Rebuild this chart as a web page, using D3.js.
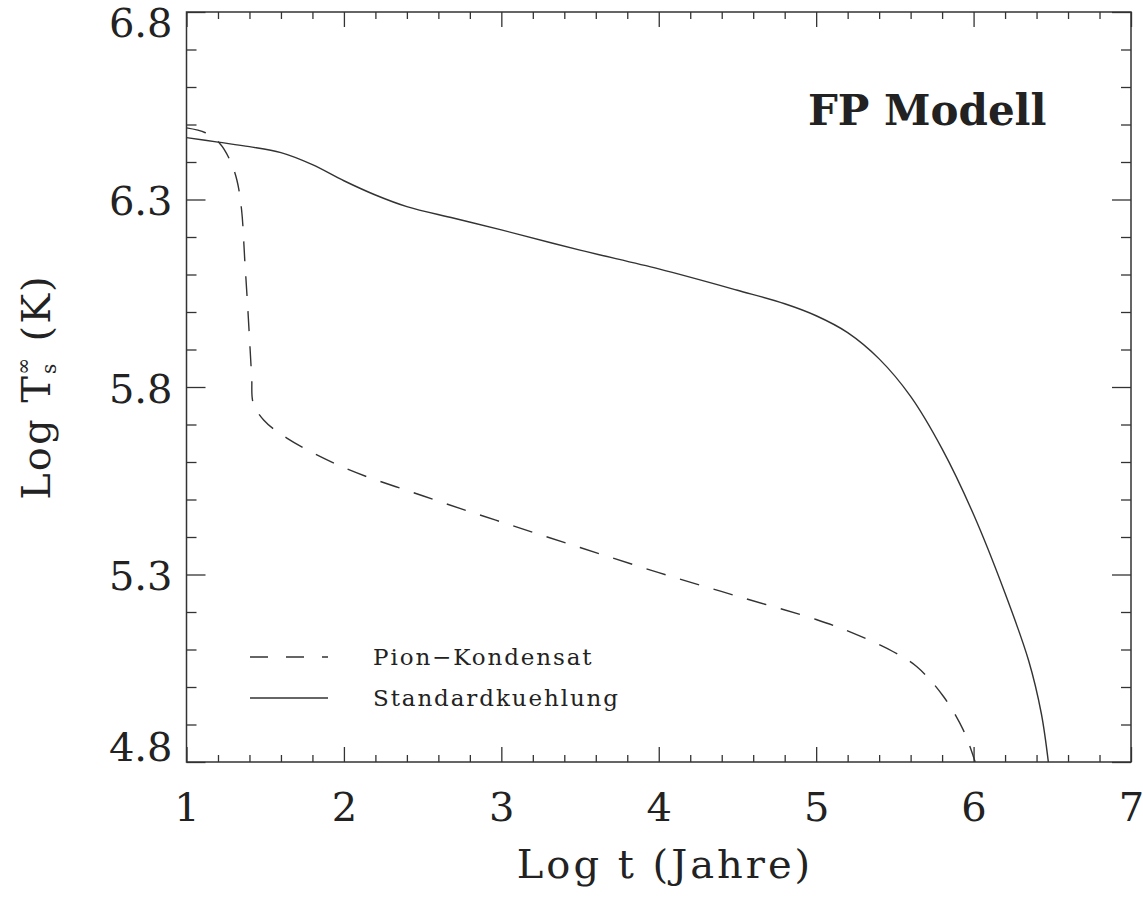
<!DOCTYPE html>
<html>
<head>
<meta charset="utf-8">
<script src="https://cdn.jsdelivr.net/npm/d3@7"></script>
<style>
  html, body { margin: 0; padding: 0; background: #fff; }
  svg { display: block; }
  text { font-family: "DejaVu Serif", "Liberation Serif", serif; fill: #222; }
</style>
</head>
<body>
<svg id="chart" width="1143" height="904"></svg>
<script>
// ---- data ----
const xTickLabels = [1, 2, 3, 4, 5, 6, 7];
const yTickLabels = [4.8, 5.3, 5.8, 6.3, 6.8];

// Standardkuehlung (solid)
const standardX = [1.00, 1.20, 1.40, 1.60, 1.80, 2.00, 2.20, 2.40, 2.70, 3.00, 3.50, 4.00, 4.50, 4.80, 5.00, 5.20, 5.40, 5.60, 5.80, 6.00, 6.20, 6.35, 6.43, 6.475];
const standardY = [6.465, 6.453, 6.441, 6.425, 6.393, 6.350, 6.312, 6.281, 6.250, 6.219, 6.165, 6.115, 6.058, 6.022, 5.990, 5.945, 5.875, 5.775, 5.635, 5.460, 5.250, 5.070, 4.930, 4.800];

// Pion-Kondensat (dashed)
const pionX = [1.00, 1.12, 1.21, 1.276, 1.32, 1.35, 1.37, 1.39, 1.414, 1.424, 1.49, 1.64, 2.00, 2.50, 3.00, 3.50, 4.00, 4.50, 5.00, 5.215, 5.49, 5.64, 5.81, 5.935, 6.01];
const pionY = [6.491, 6.478, 6.450, 6.405, 6.352, 6.272, 6.139, 6.005, 5.827, 5.757, 5.712, 5.663, 5.585, 5.510, 5.440, 5.372, 5.305, 5.242, 5.180, 5.147, 5.094, 5.054, 4.974, 4.885, 4.80];

const legendLabels = ["Pion\u2212Kondensat", "Standardkuehlung"];
const titleText = "FP Modell";
const xTitle = "Log t (Jahre)";

// ---- layout ----
const svg = d3.select("#chart");
const L = 186.5, R = 1131, T = 12, B = 762;
const x = d3.scaleLinear().domain([1, 7]).range([L, R]);
const y = d3.scaleLinear().domain([4.8, 6.8]).range([B, T]);
const ink = "#333";

const xMinor = d3.range(1, 7.001, 0.2).filter(v => Math.abs(v - Math.round(v)) > 1e-6);
const yMinor = d3.range(4.8, 6.801, 0.1).filter(v => !yTickLabels.some(t => Math.abs(t - v) < 1e-6));

function styleAxis(g) {
  g.select(".domain").remove();
  g.selectAll(".tick line").attr("stroke", ink).attr("stroke-width", 1.3);
}

// bottom
svg.append("g").attr("transform", `translate(0,${B})`)
  .call(d3.axisBottom(x).tickValues(xTickLabels).tickSize(-15).tickPadding(31).tickFormat(d3.format("d")))
  .call(styleAxis)
  .call(g => g.selectAll("text").attr("font-size", 40).attr("font-family", "DejaVu Serif").attr("fill", "#222"));
svg.append("g").attr("transform", `translate(0,${B})`)
  .call(d3.axisBottom(x).tickValues(xMinor).tickSize(-7).tickFormat(""))
  .call(styleAxis);
// top
svg.append("g").attr("transform", `translate(0,${T})`)
  .call(d3.axisTop(x).tickValues(xTickLabels).tickSize(-15).tickFormat(""))
  .call(styleAxis);
svg.append("g").attr("transform", `translate(0,${T})`)
  .call(d3.axisTop(x).tickValues(xMinor).tickSize(-7).tickFormat(""))
  .call(styleAxis);
// left
svg.append("g").attr("transform", `translate(${L},0)`)
  .call(d3.axisLeft(y).tickValues(yTickLabels).tickSize(-19).tickPadding(14).tickFormat(d3.format(".1f")))
  .call(styleAxis)
  .call(g => g.selectAll("text").attr("font-size", 40).attr("font-family", "DejaVu Serif").attr("fill", "#222")
    .attr("dy", d => d === 6.8 ? "0.62em" : (d === 4.8 ? "-0.05em" : "0.38em")));
svg.append("g").attr("transform", `translate(${L},0)`)
  .call(d3.axisLeft(y).tickValues(yMinor).tickSize(-10).tickFormat(""))
  .call(styleAxis);
// right
svg.append("g").attr("transform", `translate(${R},0)`)
  .call(d3.axisRight(y).tickValues(yTickLabels).tickSize(-19).tickFormat(""))
  .call(styleAxis);
svg.append("g").attr("transform", `translate(${R},0)`)
  .call(d3.axisRight(y).tickValues(yMinor).tickSize(-10).tickFormat(""))
  .call(styleAxis);

// frame
svg.append("rect").attr("x", L).attr("y", T).attr("width", R - L).attr("height", B - T)
  .attr("fill", "none").attr("stroke", ink).attr("stroke-width", 1.5);

// clip
svg.append("clipPath").attr("id", "clip").append("rect")
  .attr("x", L).attr("y", T).attr("width", R - L).attr("height", B - T);

const line = d3.line().x(d => x(d[0])).y(d => y(d[1])).curve(d3.curveCatmullRom.alpha(0.5));
const plot = svg.append("g").attr("clip-path", "url(#clip)");
plot.append("path").datum(d3.zip(standardX, standardY))
  .attr("d", line).attr("fill", "none").attr("stroke", ink).attr("stroke-width", 1.4);
plot.append("path").datum(d3.zip(pionX, pionY))
  .attr("d", line).attr("fill", "none").attr("stroke", ink).attr("stroke-width", 1.4)
  .attr("stroke-dasharray", "20,15");

// title
svg.append("text").attr("x", 808).attr("y", 125).attr("font-size", 42).attr("font-weight", "bold")
  .attr("letter-spacing", 0).attr("fill", "#111").text(titleText);

// legend
const legX = d3.scaleLinear().domain([0, 1]).range([250, 328]);
const legRows = [{label: legendLabels[0], dash: "18,18", yy: 657},
                 {label: legendLabels[1], dash: null, yy: 698}];
legRows.forEach(r => {
  svg.append("line").attr("x1", legX(0)).attr("x2", legX(1)).attr("y1", r.yy).attr("y2", r.yy)
    .attr("stroke", ink).attr("stroke-width", 1.4).attr("stroke-dasharray", r.dash);
  svg.append("text").attr("x", 373).attr("y", r.yy + 8).attr("font-size", 23)
    .attr("letter-spacing", 1.9).text(r.label);
});

// x title
svg.append("text").attr("x", 665).attr("y", 878).attr("text-anchor", "middle")
  .attr("font-size", 40).attr("letter-spacing", 3).text(xTitle);

// y title
const yt = svg.append("text").attr("transform", "translate(50,387) rotate(-90)")
  .attr("text-anchor", "middle").attr("font-size", 40).attr("letter-spacing", 2);
yt.append("tspan").text("Log T");
yt.append("tspan").attr("font-size", 20).attr("dy", 6).text("s");
yt.append("tspan").attr("font-size", 20).attr("dx", -13).attr("dy", -26).text("\u221E");
yt.append("tspan").attr("dy", 20).text(" (K)");
</script>
</body>
</html>
